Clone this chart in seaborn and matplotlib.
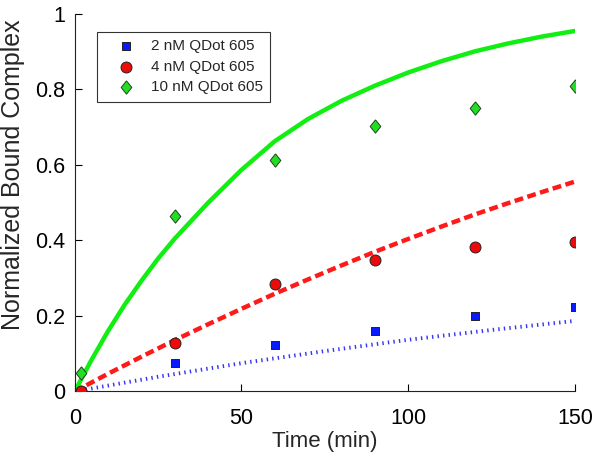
import numpy as np
import pandas as pd
import seaborn as sns
import matplotlib.pyplot as plt

# measured points (time in min)
t_pts = [2, 30, 60, 90, 120, 150]
qd2_pts = [0.0, 0.075, 0.124, 0.161, 0.200, 0.224]
qd4_pts = [0.0, 0.129, 0.284, 0.347, 0.382, 0.395]
qd10_pts = [0.050, 0.465, 0.613, 0.703, 0.750, 0.809]

# model curves
t_fit2 = [0, 25, 50, 75, 100, 125, 150]
qd2_fit = [0.0, 0.039, 0.075, 0.107, 0.137, 0.163, 0.187]
t_fit4 = [0, 10, 20, 30, 40, 50, 60, 70, 80, 90, 100, 110, 120, 130, 140, 150]
qd4_fit = [0.0, 0.047, 0.092, 0.136, 0.178, 0.219, 0.259, 0.297, 0.334, 0.370,
           0.404, 0.437, 0.469, 0.499, 0.528, 0.556]
t_fit10 = [0, 5, 10, 15, 20, 25, 30, 40, 50, 60, 70, 80, 90, 100, 110, 120, 130, 140, 150]
qd10_fit = [0.0, 0.083, 0.16, 0.23, 0.293, 0.352, 0.405, 0.50, 0.587, 0.663, 0.722,
            0.770, 0.81, 0.845, 0.875, 0.901, 0.922, 0.94, 0.955]

labels = ['2 nM QDot 605', '4 nM QDot 605', '10 nM QDot 605']

sns.set_style('ticks')
plt.rcParams['font.family'] = ['Liberation Sans', 'DejaVu Sans']

fig = plt.figure(figsize=(6, 4.55), dpi=100)
ax = fig.add_axes([0.1245, 0.1396, 0.8338, 0.8297])

# fitted curves
sns.lineplot(x=t_fit2, y=qd2_fit, ax=ax, color='#3535f5', linewidth=2.8,
             linestyle=(0, (0.36, 1.07)), legend=False)
sns.lineplot(x=t_fit4, y=qd4_fit, ax=ax, color='#ff1a1a', linewidth=3.2,
             linestyle=(0, (2.0, 1.0)), legend=False)
sns.lineplot(x=t_fit10, y=qd10_fit, ax=ax, color='#11ee11', linewidth=3.2,
             legend=False)

# data points
diamond = [(0, 1), (0.8, 0), (0, -1), (-0.8, 0), (0, 1)]
sns.scatterplot(x=t_pts, y=qd2_pts, ax=ax, marker='s', s=40, color='#0a1aff',
                edgecolor='#222222', linewidth=0.7, label=labels[0], zorder=5)
sns.scatterplot(x=t_pts, y=qd4_pts, ax=ax, marker='o', s=62, color='#ee0a0a',
                edgecolor='#222222', linewidth=0.7, label=labels[1], zorder=5)
sns.scatterplot(x=t_pts, y=qd10_pts, ax=ax, marker=diamond, s=92, color='#22dd22',
                edgecolor='#224422', linewidth=0.7, label=labels[2], zorder=5)

ax.set_xlim(0, 150)
ax.set_ylim(0, 1)
ax.set_xticks([0, 50, 100, 150])
ax.set_yticks([0, 0.2, 0.4, 0.6, 0.8, 1.0])
ax.set_yticklabels(['0', '0.2', '0.4', '0.6', '0.8', '1'])
ax.tick_params(direction='in', length=5, width=0.8, colors='black', labelsize=15.5)
ax.tick_params(axis='x', pad=12)
ax.tick_params(axis='y', pad=7)
sns.despine(ax=ax)
for sp in ['left', 'bottom']:
    ax.spines[sp].set_color('#222222')
    ax.spines[sp].set_linewidth(0.8)

ax.set_xlabel('Time (min)', fontsize=16, labelpad=1)
ax.set_ylabel('Normalized Bound Complex', fontsize=18)
ax.yaxis.set_label_coords(-0.099, 0.573)

leg = ax.legend(loc='upper left', bbox_to_anchor=(0.045, 0.953), borderaxespad=0,
                fontsize=11, frameon=True, fancybox=False, scatterpoints=1,
                handlelength=2.8, handletextpad=0.2, labelspacing=0.42,
                borderpad=0.5)
leg.get_frame().set_edgecolor('black')
leg.get_frame().set_linewidth(0.8)

fig.savefig('out.png', dpi=100)
